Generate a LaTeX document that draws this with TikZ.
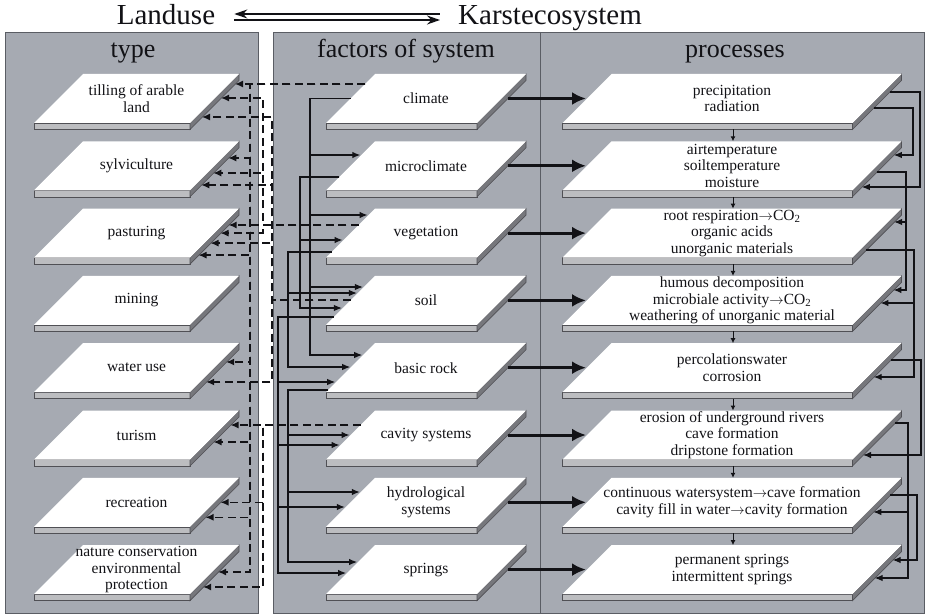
\documentclass[tikz,border=0pt]{standalone}
\usepackage{fontspec}
\setmainfont{Liberation Serif}
\usetikzlibrary{arrows.meta,calc}
\definecolor{cPanel}{RGB}{166,170,178}
\definecolor{cPanelLine}{RGB}{90,93,100}
\definecolor{cInk}{RGB}{18,18,22}
\definecolor{cSlabF}{RGB}{188,189,192}
\definecolor{cSlabS}{RGB}{118,119,124}
\definecolor{cSlabL}{RGB}{80,80,85}
\newcommand\kplate[5]{%
  \path[slabfront] (#2-#4-24.5,#3+24.5) rectangle (#2+#4-24.5,#3+31);
  \path[slabside] (#2+#4-24.5,#3+24.5) -- (#2+#4+24.5,#3-24.5) -- (#2+#4+24.5,#3-18) -- (#2+#4-24.5,#3+31) -- cycle;
  \path[platetop] (#2-#4+24.5,#3-24.5) -- (#2+#4+24.5,#3-24.5) -- (#2+#4-24.5,#3+24.5) -- (#2-#4-24.5,#3+24.5) -- cycle;
  \node[platetext] (#1) at (#2,#3) {#5};%
}
\begin{document}
\begin{tikzpicture}[x=1pt,y=-1pt,
  slabfront/.style={fill=cSlabF,draw=cSlabL,line width=0.6pt},
  slabside/.style={fill=cSlabS,draw=cSlabL,line width=0.6pt},
  platetop/.style={fill=white},
  platetext/.style={align=center,font=\fontsize{15.5}{16.5}\selectfont,text=cInk,inner sep=0pt},
  hdr/.style={font=\fontsize{26}{28}\selectfont,text=cInk,inner sep=0pt,anchor=base},
  ttl/.style={font=\fontsize{29}{31}\selectfont,text=cInk,inner sep=0pt,anchor=base},
  ttlar/.style={draw=cInk,line width=1.7pt,-{Stealth[length=13pt,width=9pt]}},
  dsh/.style={draw=cInk,line width=1.4pt,dash pattern=on 8pt off 4.5pt,-{Latex[length=8pt,width=7pt]}},
  thinar/.style={draw=cInk,line width=1.2pt,-{Latex[length=8pt,width=6.5pt]}},
  thickar/.style={draw=cInk,line width=3pt,-{Latex[length=14pt,width=13pt]}},
  smallar/.style={draw=cInk,line width=1pt,-{Latex[length=5pt,width=5pt]}},
  fbk/.style={draw=cInk,line width=1.2pt,-{Latex[length=8pt,width=6.5pt]}},
  panelbox/.style={fill=cPanel,draw=cPanelLine,line width=0.8pt}
]
\useasboundingbox (0,0) rectangle (926,615);
\fill[white] (0,0) rectangle (926,615);

% panels
\path[panelbox] (5,32) rectangle (258,613);
\path[panelbox] (273,32) rectangle (924,613);
\draw[cPanelLine,line width=0.8pt] (540,32) -- (540,613);

% title
\node[ttl] (land) at (166,25) {Landuse};
\node[ttl] (kar) at (550,25) {Karstecosystem};
\coordinate (la) at ($(land.base east)+(19,-11)$);
\coordinate (lb) at ($(land.base east)+(19,-5)$);
\coordinate (ka) at ($(kar.base west)+(-18,-11)$);
\coordinate (kb) at ($(kar.base west)+(-18,-5)$);
\draw[ttlar] (ka) -- (la);
\draw[ttlar] (lb) -- (kb);

% headers
\node[hdr] (htype) at (133,57.5) {type};
\node[hdr] (hfac) at (406,57.5) {factors of system};
\node[hdr] (hproc) at (735,57.5) {processes};

% plates: type
\kplate{L1}{136.5}{98.5}{78}{tilling of arable\\land}
\kplate{L2}{136.5}{165.8}{78}{sylviculture}
\kplate{L3}{136.5}{233.1}{78}{pasturing}
\kplate{L4}{136.5}{300.4}{78}{mining}
\kplate{L5}{136.5}{367.7}{78}{water use}
\kplate{L6}{136.5}{435.0}{78}{turism}
\kplate{L7}{136.5}{502.3}{78}{recreation}
\kplate{L8}{136.5}{569.6}{78}{nature conservation\\environmental\\protection}
% plates: factors
\kplate{M1}{426}{98.5}{75.5}{climate}
\kplate{M2}{426}{165.8}{75.5}{microclimate}
\kplate{M3}{426}{233.1}{75.5}{vegetation}
\kplate{M4}{426}{300.4}{75.5}{soil}
\kplate{M5}{426}{367.7}{75.5}{basic rock}
\kplate{M6}{426}{435.0}{75.5}{cavity systems}
\kplate{M7}{426}{502.3}{75.5}{hydrological\\systems}
\kplate{M8}{426}{569.6}{75.5}{springs}
% plates: processes
\kplate{R1}{732}{98.5}{145}{precipitation\\radiation}
\kplate{R2}{732}{165.8}{145}{airtemperature\\soiltemperature\\moisture}
\kplate{R3}{732}{233.1}{145}{root respiration$\rightarrow$CO\textsubscript{2}\\organic acids\\unorganic materials}
\kplate{R4}{732}{300.4}{145}{humous decomposition\\microbiale activity$\rightarrow$CO\textsubscript{2}\\weathering of unorganic material}
\kplate{R5}{732}{367.7}{145}{percolationswater\\corrosion}
\kplate{R6}{732}{435.0}{145}{erosion of underground rivers\\cave formation\\dripstone formation}
\kplate{R7}{732}{502.3}{145}{continuous watersystem$\rightarrow$cave formation\\cavity fill in water$\rightarrow$cavity formation}
\kplate{R8}{732}{569.6}{145}{permanent springs\\intermittent springs}

% ---------- dashed: factors -> type ----------
\coordinate (dC) at ($(M1)+(-61,-14.5)$);
\coordinate (dV) at ($(M3)+(-67.4,-8.1)$);
\coordinate (dS) at ($(M4)+(-75.1,-0.4)$);
\coordinate (dK) at ($(M6)+(-65.5,-10)$);
\coordinate (tC) at (250,84);
\coordinate (tV) at (263,225);
\coordinate (tS) at (272,300);
\coordinate (tK) at (263,425);
\coordinate (a11) at ($(L1)+(98.5,-14.5)$);
\coordinate (a12) at ($(L1)+(84.5,-0.5)$);
\coordinate (a13) at ($(L1)+(65.5,18.5)$);
\coordinate (a21) at ($(L2)+(91.8,-7.8)$);
\coordinate (a22) at ($(L2)+(76.8,7.2)$);
\coordinate (a23) at ($(L2)+(64.8,19.2)$);
\coordinate (a31) at ($(L3)+(92.1,-8.1)$);
\coordinate (a32) at ($(L3)+(84,0)$);
\coordinate (a33) at ($(L3)+(74,10)$);
\coordinate (a34) at ($(L3)+(62,22)$);
\coordinate (a51) at ($(L5)+(89.7,-5.7)$);
\coordinate (a52) at ($(L5)+(69.7,14.3)$);
\coordinate (a61) at ($(L6)+(94,-10)$);
\coordinate (a62) at ($(L6)+(77,7)$);
\coordinate (a71) at ($(L7)+(84,0)$);
\coordinate (a72) at ($(L7)+(69,15)$);
\coordinate (a81) at ($(L8)+(81.6,2.4)$);
\coordinate (a82) at ($(L8)+(66.6,17.4)$);
\draw[dsh] (dC) -- (a11);
\foreach \t in {a21,a34,a51,a62,a72,a81} \draw[dsh] (dC) -- (tC) |- (\t);
\draw[dsh] (dV) -- (a31);
\foreach \t in {a12,a22,a32} \draw[dsh] (dV) -- (tV) |- (\t);
\foreach \t in {a13,a23,a33,a52} \draw[dsh] (dS) -- (tS) |- (\t);
\draw[dsh] (dK) -- (a61);
\foreach \t in {a71,a82} \draw[dsh] (dK) -- (tK) |- (\t);

% ---------- thin solid: factors -> factors ----------
\coordinate (sC) at ($(M1)+(-75.5,0)$);
\coordinate (sMi) at ($(M2)+(-86.7,11.2)$);
\coordinate (sV) at ($(M3)+(-94.4,18.9)$);
\coordinate (sS) at ($(M4)+(-92.1,16.6)$);
\coordinate (sB) at ($(M5)+(-97.8,22.3)$);
\coordinate (cC) at (310,98.5);
\coordinate (cMi) at (300,177);
\coordinate (cV) at (288,252);
\coordinate (cS) at (278,317);
\coordinate (cB) at (288,390);
\coordinate (b2C) at ($(M2)+(-65.7,-10.8)$);
\coordinate (b3C) at ($(M3)+(-58.4,-18.1)$);
\coordinate (b4C) at ($(M4)+(-63.1,-13.4)$);
\coordinate (b5C) at ($(M5)+(-63.8,-12.7)$);
\coordinate (b3Mi) at ($(M3)+(-83.4,6.9)$);
\coordinate (b4Mi) at ($(M4)+(-84.1,7.6)$);
\coordinate (b4V) at ($(M4)+(-69.1,-7.4)$);
\coordinate (b5V) at ($(M5)+(-75.8,-0.7)$);
\coordinate (b5S) at ($(M5)+(-90.8,14.3)$);
\coordinate (b6S) at ($(M6)+(-86.5,10)$);
\coordinate (b7S) at ($(M7)+(-81.2,4.7)$);
\coordinate (b8S) at ($(M8)+(-79.9,3.4)$);
\coordinate (b6B) at ($(M6)+(-76.5,0)$);
\coordinate (b7B) at ($(M7)+(-66.2,-10.3)$);
\coordinate (b8B) at ($(M8)+(-68.9,-7.6)$);
\foreach \t in {b2C,b3C,b4C,b5C} \draw[thinar] (sC) -- (cC) |- (\t);
\foreach \t in {b3Mi,b4Mi} \draw[thinar] (sMi) -- (cMi) |- (\t);
\foreach \t in {b4V,b5V} \draw[thinar] (sV) -- (cV) |- (\t);
\foreach \t in {b5S,b6S,b7S,b8S} \draw[thinar] (sS) -- (cS) |- (\t);
\foreach \t in {b6B,b7B,b8B} \draw[thinar] (sB) -- (cB) |- (\t);

% ---------- thick: factors -> processes ----------
\foreach \m/\r in {M1/R1,M2/R2,M3/R3,M4/R4,M5/R5,M6/R6,M7/R7,M8/R8}
  \draw[thickar] ($(\m)+(81.5,0)$) -- ($(\r)+(-146,0)$);

% ---------- small: process chain ----------
\foreach \a/\b in {R1/R2,R2/R3,R3/R4,R4/R5,R5/R6,R6/R7,R7/R8}
  \draw[smallar] ($(\a)+(1,31)$) -- ($(\b)+(1,-24.5)$);

% ---------- feedback on the right ----------
\coordinate (f1s) at ($(R1)+(157.5,-6.5)$);
\coordinate (f1c) at (920,92);
\coordinate (f1t) at ($(R2)+(129.8,21.2)$);
\coordinate (f2s) at ($(R1)+(141.5,9.5)$);
\coordinate (f2c) at (913,108);
\coordinate (f2t) at ($(R2)+(161.8,-10.8)$);
\coordinate (f3s) at ($(R2)+(144.8,6.2)$);
\coordinate (f3c) at (906,172);
\coordinate (f3t) at ($(R3)+(162.1,-11.1)$);
\coordinate (f3u) at ($(R4)+(161.4,-10.4)$);
\coordinate (f4s) at ($(R3)+(134.1,16.9)$);
\coordinate (f4c) at (914,250);
\coordinate (f4t) at ($(R4)+(148.4,2.6)$);
\coordinate (f4u) at ($(R5)+(141.7,9.3)$);
\coordinate (f5s) at ($(R5)+(158.7,-7.7)$);
\coordinate (f5c) at (921,360);
\coordinate (f5t) at ($(R6)+(131,20)$);
\coordinate (f6s) at ($(R6)+(163,-12)$);
\coordinate (f6c) at (908,423);
\coordinate (f6t) at ($(R7)+(141.3,9.7)$);
\coordinate (f6u) at ($(R8)+(142.6,8.4)$);
\coordinate (f7s) at ($(R7)+(158.3,-7.3)$);
\coordinate (f7c) at (917,495);
\coordinate (f7t) at ($(R8)+(160.6,-9.6)$);
\draw[fbk] (f1s) -- (f1c) |- (f1t);
\draw[fbk] (f2s) -- (f2c) |- (f2t);
\draw[fbk] (f3s) -- (f3c) |- (f3t);
\draw[fbk] (f3s) -- (f3c) |- (f3u);
\draw[fbk] (f4s) -- (f4c) |- (f4t);
\draw[fbk] (f4s) -- (f4c) |- (f4u);
\draw[fbk] (f5s) -- (f5c) |- (f5t);
\draw[fbk] (f6s) -- (f6c) |- (f6t);
\draw[fbk] (f6s) -- (f6c) |- (f6u);
\draw[fbk] (f7s) -- (f7c) |- (f7t);
\end{tikzpicture}
\end{document}
